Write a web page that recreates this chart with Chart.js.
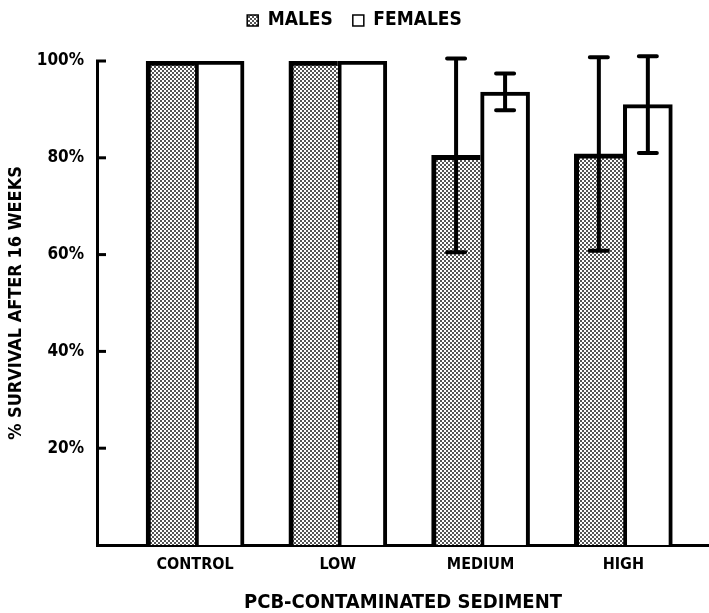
<!DOCTYPE html>
<html>
<head>
<meta charset="utf-8">
<script src="https://cdn.jsdelivr.net/npm/chart.js@4"></script>
<style>
  html, body { margin: 0; padding: 0; background: #fff; }
  #wrap { width: 709px; height: 613px; }
</style>
</head>
<body>
<div id="wrap"><canvas id="survivalChart"></canvas></div>
<script>
const categories = ['CONTROL', 'LOW', 'MEDIUM', 'HIGH'];
const groupPos = [0, 1, 2, 3];
const malesSurvival = [100, 100, 80.5, 80.8];
const malesError = [0, 0, 20, 20];
const femalesSurvival = [100, 100, 93.6, 91];
const femalesError = [0, 0, 3.8, 10];
const yTicks = [20, 40, 60, 80, 100];

const FONT = "'DejaVu Sans Condensed', 'DejaVu Sans', sans-serif";

// stipple fill for the male bars
function stipple() {
    const tile = document.createElement('canvas');
    tile.width = 4; tile.height = 4;
    const t = tile.getContext('2d');
    t.fillStyle = '#fff';
    t.fillRect(0, 0, 4, 4);
    t.fillStyle = '#555';
    t.fillRect(0, 0, 2, 2);
    t.fillRect(2, 2, 2, 2);
    return t.createPattern(tile, 'repeat');
}

const errorBars = {
    id: 'errorBars',
    afterDatasetsDraw(chart) {
        const ctx = chart.ctx;
        const y = chart.scales.y;
        const errs = [malesError, femalesError];
        ctx.save();
        ctx.strokeStyle = '#000';
        ctx.lineCap = 'round';
        chart.data.datasets.forEach((ds, di) => {
            chart.getDatasetMeta(di).data.forEach((bar, i) => {
                const e = errs[di][i];
                if (!e) return;
                const v = ds.data[i].y;
                const top = y.getPixelForValue(v + e);
                const bot = y.getPixelForValue(v - e);
                ctx.lineWidth = 4;
                ctx.beginPath();
                ctx.moveTo(bar.x, top); ctx.lineTo(bar.x, bot);
                ctx.moveTo(bar.x - 9, top); ctx.lineTo(bar.x + 9, top);
                ctx.moveTo(bar.x - 9, bot); ctx.lineTo(bar.x + 9, bot);
                ctx.stroke();
            });
        });
        ctx.restore();
    }
};

// short tick marks pointing into the plot
const innerTicks = {
    id: 'innerTicks',
    afterDraw(chart) {
        const ctx = chart.ctx;
        const y = chart.scales.y;
        const left = chart.chartArea.left;
        ctx.save();
        ctx.strokeStyle = '#000';
        ctx.lineWidth = 3;
        yTicks.forEach(v => {
            const py = y.getPixelForValue(v);
            ctx.beginPath();
            ctx.moveTo(left - 1, py);
            ctx.lineTo(left + 9, py);
            ctx.stroke();
        });
        ctx.restore();
    }
};

const legendSpace = {
    id: 'legendSpace',
    beforeInit(chart) {
        const fit = chart.legend.fit;
        chart.legend.fit = function () {
            fit.bind(chart.legend)();
            this.height += 21;
        };
    }
};

const canvas = document.getElementById('survivalChart');
const ctx = canvas.getContext('2d');

new Chart(ctx, {
    type: 'bar',
    data: {
        datasets: [
            {
                label: 'MALES',
                data: groupPos.map((x, i) => ({ x, y: malesSurvival[i] })),
                backgroundColor: stipple(),
                borderColor: '#000',
                borderWidth: { top: 5, left: 5, right: 0, bottom: 0 },
                borderSkipped: false,
                barThickness: 49
            },
            {
                label: 'FEMALES',
                data: groupPos.map((x, i) => ({ x, y: femalesSurvival[i] })),
                backgroundColor: '#fff',
                borderColor: '#000',
                borderWidth: { top: 4, left: 4, right: 4, bottom: 0 },
                borderSkipped: false,
                barThickness: 49
            }
        ]
    },
    options: {
        responsive: true,
        maintainAspectRatio: false,
        animation: false,
        devicePixelRatio: 1,
        layout: { padding: { top: -9, left: 0, right: 0, bottom: 0 } },
        plugins: {
            tooltip: { enabled: false },
            legend: {
                position: 'top',
                labels: {
                    color: '#000',
                    font: { family: FONT, size: 19, weight: 'bold' },
                    boxWidth: 11,
                    boxHeight: 11,
                    padding: 20,
                    generateLabels(chart) {
                        const items = Chart.defaults.plugins.legend.labels.generateLabels(chart);
                        items.forEach(it => { it.lineWidth = 1.5; it.strokeStyle = '#000'; });
                        return items;
                    }
                }
            }
        },
        scales: {
            x: {
                type: 'linear',
                offset: false,
                min: -0.687,
                max: 3.6,
                afterBuildTicks(scale) {
                    scale.ticks = groupPos.map(v => ({ value: v }));
                },
                afterFit(scale) { scale.height = 68; },
                grid: { display: false, drawTicks: false, offset: false },
                border: { display: true, color: '#000', width: 3 },
                ticks: {
                    color: '#000',
                    padding: 10,
                    maxRotation: 0,
                    autoSkip: false,
                    font: { family: FONT, size: 16, weight: 'bold' },
                    callback: v => categories[v]
                },
                title: {
                    display: true,
                    text: 'PCB-CONTAMINATED SEDIMENT',
                    color: '#000',
                    font: { family: FONT, size: 20, weight: 'bold', lineHeight: 1 },
                    padding: { top: 0, bottom: 0 }
                }
            },
            y: {
                min: 0,
                max: 100,
                afterFit(scale) { scale.width = 97; },
                grid: { display: false, drawTicks: false },
                border: { display: true, color: '#000', width: 3 },
                ticks: {
                    stepSize: 20,
                    color: '#000',
                    padding: 13,
                    font: { family: FONT, size: 17, weight: 'bold' },
                    callback: v => (yTicks.includes(v) ? v + '%' : '')
                },
                title: {
                    display: true,
                    text: '% SURVIVAL AFTER 16 WEEKS',
                    color: '#000',
                    font: { family: FONT, size: 18, weight: 'bold' },
                    padding: { top: 6, bottom: 0 }
                }
            }
        }
    },
    plugins: [errorBars, innerTicks, legendSpace]
});
</script>
</body>
</html>
